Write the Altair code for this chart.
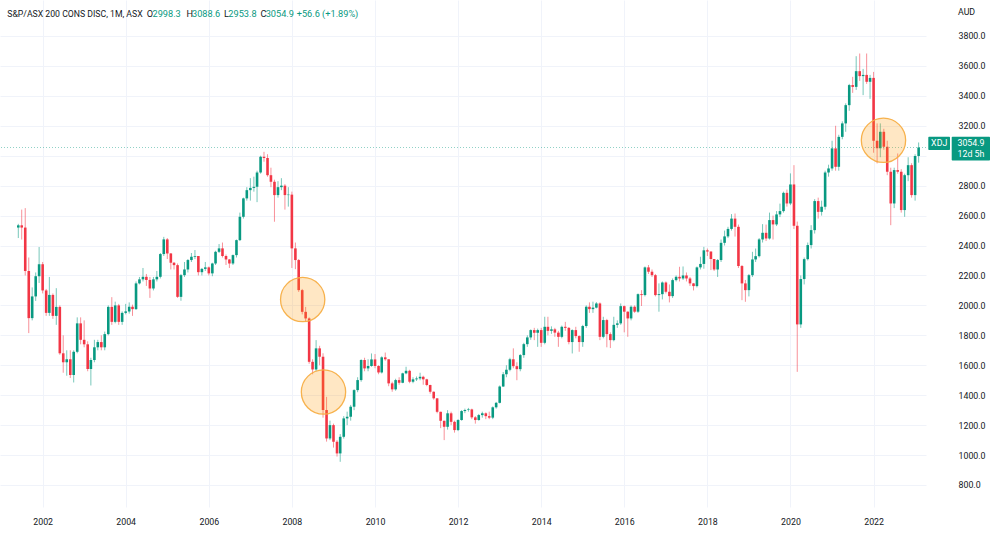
import altair as alt
import pandas as pd

# ---------------- data (monthly candles, Jun 2001 .. Feb 2023) ----------------
first_open = 2520
close = [
    2535, 2520, 2230, 1915, 2060, 2195, 2275,                                   # 2001 Jun-Dec
    2100, 1950, 2070, 1930, 1990, 1680, 1620, 1640, 1535, 1690, 1880, 1770,     # 2002
    1740, 1575, 1635, 1720, 1755, 1720, 1808, 1990, 1890, 2000, 1890, 1950,     # 2003
    1960, 1991, 1975, 2147, 2174, 2191, 2170, 2113, 2174, 2191, 2343, 2441,     # 2004
    2347, 2285, 2269, 2057, 2202, 2240, 2303, 2325, 2330, 2222, 2244, 2254,     # 2005
    2214, 2280, 2358, 2381, 2330, 2307, 2280, 2336, 2436, 2592, 2715, 2770,     # 2006
    2785, 2792, 2888, 2993, 2985, 2870, 2826, 2737, 2790, 2800, 2737, 2740,     # 2007
    2381, 2303, 2102, 1957, 1913, 1623, 1572, 1713, 1657, 1301, 1111, 1200,     # 2008
    1089, 1011, 1122, 1245, 1256, 1323, 1434, 1501, 1635, 1579, 1595, 1639,     # 2009
    1595, 1552, 1653, 1640, 1479, 1439, 1501, 1483, 1546, 1563, 1490, 1506,     # 2010
    1512, 1523, 1506, 1468, 1423, 1379, 1289, 1229, 1189, 1279, 1222, 1167,     # 2011
    1234, 1294, 1301, 1305, 1252, 1234, 1267, 1279, 1260, 1250, 1319, 1349,     # 2012
    1458, 1540, 1570, 1640, 1594, 1574, 1668, 1741, 1786, 1835, 1817, 1835,     # 2013
    1750, 1857, 1830, 1840, 1818, 1790, 1857, 1850, 1755, 1835, 1795, 1755,     # 2014
    1862, 1991, 1975, 1985, 2013, 1790, 1902, 1808, 1768, 1870, 1880, 1995,     # 2015
    1958, 1913, 1991, 1958, 2075, 2069, 2254, 2225, 2202, 2069, 2075, 2153,     # 2016
    2091, 2062, 2169, 2191, 2180, 2200, 2180, 2147, 2129, 2254, 2277, 2368,     # 2017
    2360, 2310, 2240, 2303, 2418, 2461, 2511, 2580, 2525, 2263, 2147, 2102,     # 2018
    2202, 2307, 2329, 2441, 2485, 2447, 2570, 2541, 2608, 2630, 2752, 2681,     # 2019
    2808, 2532, 1873, 2176, 2309, 2403, 2503, 2697, 2625, 2659, 2888, 2915,     # 2020
    3049, 2926, 3126, 3216, 3338, 3472, 3460, 3565, 3532, 3540, 3494, 3520,     # 2021
    3100, 3050, 3160, 3060, 2893, 2681, 2904, 2893, 2637, 2870, 2937, 2737,     # 2022
    2998.3, 3054.9,                                                             # 2023 Jan-Feb
]
high = [
    2545, 2640, 2650, 2320, 2120, 2220, 2390,
    2290, 2110, 2190, 2080, 2115, 2000, 1800, 1700, 1700, 1700, 1920, 1920,
    1900, 1760, 1650, 1770, 1770, 1800, 1825, 2000, 2055, 2025, 2010, 1960,
    2010, 2020, 2005, 2160, 2190, 2250, 2210, 2190, 2190, 2230, 2350, 2458,
    2450, 2350, 2290, 2280, 2210, 2290, 2310, 2350, 2370, 2330, 2250, 2290,
    2260, 2285, 2365, 2410, 2420, 2340, 2310, 2340, 2440, 2620, 2720, 2790,
    2850, 2860, 2900, 3000, 3026, 3010, 2920, 2840, 2830, 2850, 2810, 2790,
    2760, 2420, 2310, 2110, 1990, 1920, 1640, 1768, 1730, 1680, 1389, 1230,
    1210, 1100, 1140, 1260, 1290, 1335, 1440, 1520, 1640, 1650, 1640, 1679,
    1675, 1600, 1660, 1685, 1640, 1490, 1510, 1520, 1550, 1590, 1570, 1520,
    1525, 1550, 1530, 1510, 1470, 1425, 1380, 1290, 1230, 1300, 1290, 1230,
    1240, 1300, 1310, 1315, 1310, 1260, 1275, 1290, 1285, 1290, 1325, 1355,
    1465, 1555, 1600, 1650, 1713, 1620, 1675, 1750, 1800, 1840, 1850, 1845,
    1850, 1924, 1924, 1860, 1850, 1830, 1865, 1890, 1855, 1840, 1857, 1800,
    1870, 2000, 2020, 2025, 2022, 2020, 1924, 1910, 1820, 1924, 1900, 2013,
    2000, 1960, 2000, 2000, 2080, 2102, 2260, 2270, 2240, 2210, 2147, 2160,
    2160, 2140, 2180, 2200, 2258, 2260, 2220, 2190, 2150, 2260, 2325, 2391,
    2380, 2360, 2310, 2310, 2440, 2500, 2525, 2610, 2614, 2540, 2270, 2170,
    2210, 2358, 2380, 2450, 2543, 2540, 2620, 2600, 2630, 2680, 2760, 2774,
    2882, 2937, 2560, 2200, 2320, 2420, 2536, 2710, 2720, 2700, 2900, 2940,
    3100, 3200, 3140, 3230, 3350, 3480, 3527, 3665, 3683, 3580, 3683, 3540,
    3560, 3216, 3216, 3180, 3100, 2920, 2920, 3015, 2910, 2880, 2990, 2950,
    3010, 3088.6,
]
low = [
    2450, 2440, 2200, 1815, 1900, 2030, 2150,
    2080, 1930, 1930, 1910, 1870, 1670, 1550, 1530, 1515, 1485, 1680, 1740,
    1720, 1560, 1465, 1620, 1700, 1700, 1700, 1800, 1870, 1880, 1870, 1870,
    1940, 1945, 1930, 1970, 2140, 2160, 2130, 2050, 2100, 2160, 2180, 2330,
    2310, 2240, 2240, 2050, 2031, 2190, 2220, 2290, 2310, 2200, 2200, 2230,
    2200, 2195, 2270, 2350, 2320, 2270, 2250, 2270, 2320, 2430, 2580, 2700,
    2700, 2760, 2690, 2880, 2960, 2860, 2790, 2559, 2720, 2770, 2640, 2660,
    2250, 2242, 2090, 1940, 1890, 1610, 1540, 1560, 1600, 1250, 1090, 1100,
    1050, 990, 955, 1110, 1200, 1230, 1300, 1420, 1490, 1560, 1560, 1590,
    1580, 1540, 1545, 1630, 1460, 1423, 1430, 1470, 1480, 1540, 1480, 1480,
    1495, 1500, 1470, 1460, 1410, 1370, 1279, 1180, 1100, 1170, 1200, 1150,
    1160, 1230, 1280, 1290, 1240, 1210, 1230, 1250, 1240, 1240, 1240, 1310,
    1345, 1455, 1520, 1560, 1580, 1500, 1560, 1650, 1723, 1770, 1768, 1723,
    1723, 1740, 1800, 1810, 1790, 1723, 1780, 1830, 1740, 1679, 1780, 1690,
    1723, 1850, 1950, 1950, 1980, 1768, 1780, 1720, 1715, 1760, 1850, 1870,
    1820, 1790, 1900, 1950, 1950, 1996, 2060, 2210, 2190, 2060, 1958, 2040,
    2080, 2020, 2050, 2160, 2160, 2170, 2160, 2130, 2100, 2120, 2240, 2245,
    2330, 2236, 2230, 2190, 2290, 2400, 2450, 2500, 2460, 2250, 2035, 2024,
    2060, 2190, 2290, 2320, 2420, 2430, 2440, 2440, 2530, 2590, 2620, 2660,
    2670, 2510, 1556, 1850, 2140, 2300, 2380, 2480, 2580, 2600, 2640, 2860,
    2900, 2900, 2900, 3110, 3160, 3300, 3420, 3440, 3500, 3405, 3480, 3380,
    3020, 2949, 2990, 3040, 2870, 2536, 2650, 2880, 2620, 2592, 2830, 2720,
    2700, 2953.8,
]

# circled annotations (date, price)
mark_dates = ["2008-04-05", "2008-10-05", "2022-03-29"]
mark_prices = [2039, 1421, 3103]

last_price = 3054.9
y_ticks = list(range(800, 3801, 200))
x_tick_years = list(range(2002, 2023, 2))

# ---------------- build table ----------------
dates = pd.date_range("2001-06-01", periods=len(close), freq="MS")
opens = [first_open] + close[:-1]
df = pd.DataFrame({
    "date": dates.strftime("%Y-%m-%d"),
    "open": opens, "close": close,
    "high": [max(h, o, c) for h, o, c in zip(high, opens, close)],
    "low": [min(l, o, c) for l, o, c in zip(low, opens, close)],
})
df["dir"] = ["up" if c >= o else "down" for o, c in zip(opens, close)]

GREEN = "#089981"
RED = "#F23645"
TXT = "#131722"
GRID = "#F0F3FA"
FONT = "Roboto"
FS = 8.8

W, H = 926, 507
ms = lambda s: int(pd.Timestamp(s, tz="UTC").timestamp() * 1000)
px_per_day = 3.5 / 30.436875
jan08 = pd.Timestamp("2008-01-01", tz="UTC")
x_dom = [int((jan08 - pd.Timedelta(days=290 / px_per_day)).timestamp() * 1000),
         int((jan08 + pd.Timedelta(days=(W - 290) / px_per_day)).timestamp() * 1000)]

xscale = alt.Scale(type="utc", domain=x_dom)
yscale = alt.Scale(domain=[653, 4040.5], nice=False, zero=False)
color = alt.Color("dir:N", scale=alt.Scale(domain=["up", "down"], range=[GREEN, RED]), legend=None)

xaxis = alt.Axis(values=[ms(f"{y}-01-01") for y in x_tick_years],
                 labelExpr="utcFormat(datum.value, '%Y')", title=None,
                 grid=True, gridColor=GRID, gridWidth=1, ticks=False, domain=False,
                 labelColor=TXT, labelFontSize=FS, labelFont=FONT, labelPadding=10,
                 labelFlush=False, labelOverlap=False)
yaxis = alt.Axis(orient="right", values=y_ticks, format=".1f", title=None,
                 grid=True, gridColor=GRID, gridWidth=1, ticks=False, domain=False,
                 labelColor=TXT, labelFontSize=FS, labelFont=FONT, labelAlign="left",
                 labelPadding=32, labelOverlap=False, labelFlush=False)

X = lambda f: alt.X(f, type="temporal", scale=xscale, axis=xaxis)
Y = lambda f: alt.Y(f, type="quantitative", scale=yscale, axis=yaxis)

base = alt.Chart(df).encode(x=X("date"))

wicks = base.mark_rule(strokeWidth=1, opacity=0.55).encode(
    y=Y("low"), y2="high:Q", color=color)
bodies = base.mark_bar(size=2.6).encode(
    y=Y("open"), y2="close:Q", color=color)

price_line = alt.Chart(pd.DataFrame({"p": [last_price]})).mark_rule(
    color=GREEN, strokeDash=[1, 2], strokeWidth=1, opacity=0.45).encode(
    y=Y("p"))

circ_df = pd.DataFrame({"date": mark_dates, "price": mark_prices})
circles = alt.Chart(circ_df).mark_point(
    shape="circle", filled=True, size=1963, fill="#FF9800", fillOpacity=0.23,
    stroke="#F7AE45", strokeWidth=1.3, strokeOpacity=0.95).encode(
    x=X("date"), y=Y("price"))

# header legend
hdr = [
    ("S&P/ASX 200 CONS DISC, 1M, ASX", 7.3, TXT, 8.7),
    ("O", 146.7, TXT, 9.2), ("2998.3", 152.5, GREEN, 9.2),
    ("H", 186.5, TXT, 9.2), ("3088.6", 192, GREEN, 9.2),
    ("L", 224, TXT, 9.2), ("2953.8", 228.3, GREEN, 9.2),
    ("C", 260.5, TXT, 9.2), ("3054.9", 265.7, GREEN, 9.2),
    ("+56.6 (+1.89%)", 296.7, GREEN, 9.2),
]
hdr_layers = [
    alt.Chart(pd.DataFrame({"t": [t]})).mark_text(
        align="left", baseline="middle", fontSize=f, font=FONT, color=c).encode(
        text="t:N", x=alt.value(x), y=alt.value(13.7))
    for t, x, c, f in hdr
]

aud = alt.Chart(pd.DataFrame({"t": ["AUD"]})).mark_text(
    align="left", baseline="middle", fontSize=FS, font=FONT, color=TXT).encode(
    text="t:N", x=alt.value(958), y=alt.value(11.7))

box1 = alt.Chart(pd.DataFrame({"a": [0]})).mark_rect(color=GREEN, cornerRadius=1).encode(
    x=alt.value(928.3), x2=alt.value(950), y=alt.value(136.7), y2=alt.value(150))
box2 = alt.Chart(pd.DataFrame({"a": [0]})).mark_rect(color=GREEN, cornerRadius=1).encode(
    x=alt.value(951.7), x2=alt.value(990), y=alt.value(136.7), y2=alt.value(160.5))
box_txt = [
    ("XDJ", 939.2, 143.2), ("3054.9", 971, 142.9), ("12d 5h", 971, 154.3),
]
box_layers = [
    alt.Chart(pd.DataFrame({"t": [t]})).mark_text(
        align="center", baseline="middle", fontSize=FS, font=FONT, color="white").encode(
        text="t:N", x=alt.value(x), y=alt.value(y))
    for t, x, y in box_txt
]

chart = alt.layer(
    wicks, bodies, price_line, circles, *hdr_layers, aud, box1, box2, *box_layers
).properties(
    width=W, height=H,
    autosize=alt.AutoSizeParams(type="none"),
    padding={"left": 0, "top": 0, "right": 1000 - W, "bottom": 536 - H},
    background="white",
).configure_view(stroke=None)

chart.save("out.html", embed_options={"renderer": "svg", "actions": False})
